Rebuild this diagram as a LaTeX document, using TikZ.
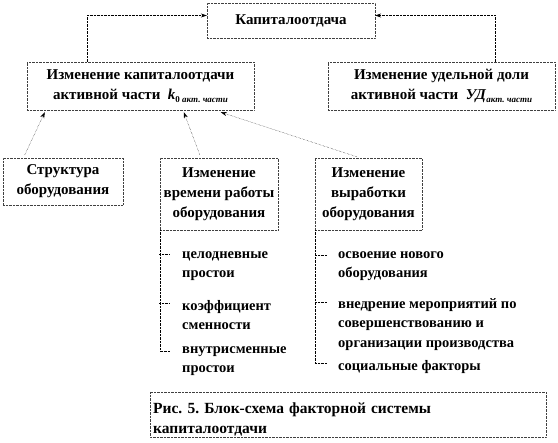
\documentclass[tikz,border=0pt]{standalone}
\usepackage{fontspec}
\setmainfont{Liberation Serif}[BoldFont={Liberation Serif Bold},ItalicFont={Liberation Serif Italic},BoldItalicFont={Liberation Serif Bold Italic}]
\usetikzlibrary{arrows.meta,calc,positioning}

\tikzset{
  box/.style={draw=black!75, densely dotted, align=center, inner sep=2pt,
    font=\fontsize{15}{20}\selectfont\bfseries},
  conn/.style={densely dotted, -{Stealth[length=6pt,width=4pt]}},
  tree/.style={densely dotted},
  item/.style={anchor=north west, inner sep=0pt, align=left,
    font=\fontsize{14.5}{19.5}\selectfont\bfseries}
}

\begin{document}
\frenchspacing
\begin{tikzpicture}[x=1pt, y=-1pt]
        \useasboundingbox (0,0) rectangle (558,443);

        % Boxes, upper level
        \node[box, minimum width=168pt, minimum height=35pt] (cap) at (291,20.5) {Капиталоотдача};
        \node[box, minimum width=227pt, minimum height=48pt] (kact) at (140.5,86)
            {Изменение капиталоотдачи\\активной части \ \textit{k}\raisebox{-0.5ex}{\fontsize{9}{9}\selectfont 0 \textit{акт. части}}};
        \node[box, minimum width=227pt, minimum height=48pt] (udact) at (441.5,86)
            {Изменение удельной доли\\активной части \ \textit{УД}\raisebox{-0.5ex}{\fontsize{9}{9}\selectfont\textit{акт. части}}};

        % Boxes, lower level
        \node[box, minimum width=120pt, minimum height=47pt] (struct) at (63,181.5) {Структура\\оборудования};
        \node[box, minimum width=118pt, minimum height=72pt] (vremya) at (219,194) {Изменение\\времени работы\\оборудования};
        \node[box, minimum width=107pt, minimum height=72pt] (vyrab) at (368.5,194) {Изменение\\выработки\\оборудования};

        % Connectors to the top
        \draw[conn] ($(kact.north west)+(60,0)$) |- ($(cap.west)+(0,-5)$);
        \draw[conn] ($(udact.north east)+(-60,0)$) |- ($(cap.east)+(0,-5)$);
        \draw[conn] ($(struct.north west)+(22,-3)$) -- ($(kact.south west)+(18,2)$);
        \draw[conn] ($(vremya.north west)+(40,-3)$) -- ($(kact.south west)+(157,2)$);
        \draw[conn] ($(vyrab.north west)+(42,-1)$) -- ($(kact.south west)+(194,2)$);

        % Factors of working time
        \node[item] (t1) at (182,251) {целодневные\\простои};
        \node[item] (t2) at (182,300) {коэффициент\\сменности};
        \node[item] (t3) at (182,346) {внутрисменные\\простои};
        \draw[tree] (vremya.south west) |- ($(t3.north west)+(-12,5)$);
        \foreach \t in {t1,t2}
            \draw[tree] ($(\t.north west)+(-23,3)$) -- ++(11,0);

        % Factors of output
        \node[item] (r1) at (338,251) {освоение нового\\оборудования};
        \node[item] (r2) at (338,298) {внедрение мероприятий по\\совершенствованию и\\организации производства};
        \node[item] (r3) at (338,360) {социальные факторы};
        \draw[tree] (vyrab.south west) |- ($(r3.north west)+(-11,3)$);
        \foreach \t in {r1,r2}
            \draw[tree] ($(\t.north west)+(-23,4)$) -- ++(12,0);

        % Caption
        \draw[draw=black!75, densely dotted] (150,392) rectangle (546,437);
        \node[anchor=north west, inner sep=0pt, text width=388pt, align=left,
            font=\fontsize{15.5}{20}\selectfont\bfseries]
            (caption) at (153,403) {Рис. 5. Блок-схема факторной системы\\капиталоотдачи};
\end{tikzpicture}
\end{document}
